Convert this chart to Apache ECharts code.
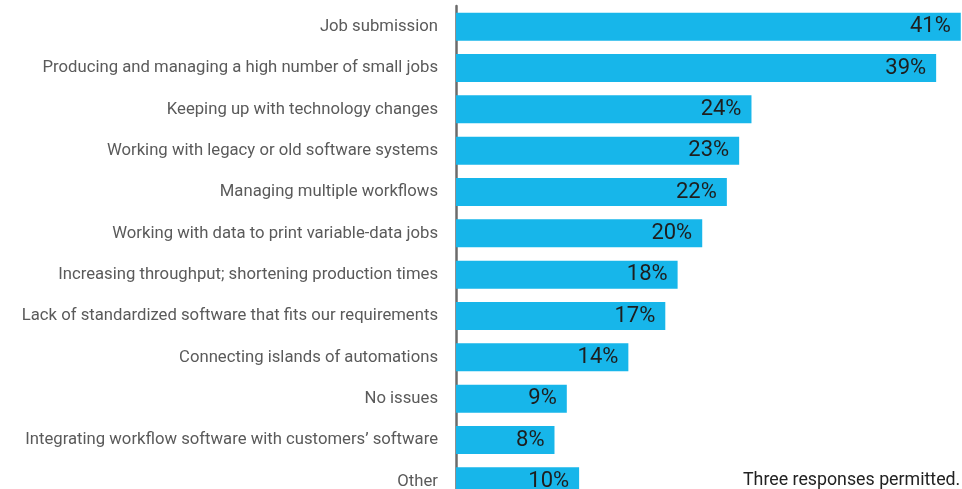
<!DOCTYPE html>
<html>
<head>
<meta charset="utf-8">
<script src="https://cdn.jsdelivr.net/npm/echarts@6/dist/echarts.min.js"></script>
<style>
  html, body { margin: 0; padding: 0; background: #fff; overflow: hidden; }
  /* canvas is taller than the window: the last row runs past the lower edge */
  #chart { width: 962px; height: 502px; }
</style>
</head>
<body>
<div id="chart"></div>
<script>
// Workflow challenges, share of respondents (percent)
const categories = [
  'Job submission',
  'Producing and managing a high number of small jobs',
  'Keeping up with technology changes',
  'Working with legacy or old software systems',
  'Managing multiple workflows',
  'Working with data to print variable-data jobs',
  'Increasing throughput; shortening production times',
  'Lack of standardized software that fits our requirements',
  'Connecting islands of automations',
  'No issues',
  'Integrating workflow software with customers\u2019 software',
  'Other'
];
const values = [41, 39, 24, 23, 22, 20, 18, 17, 14, 9, 8, 10];
const footnote = 'Three responses permitted.';

const labelFont = "'Roboto', sans-serif";

const chart = echarts.init(document.getElementById('chart'), null, { renderer: 'canvas' });
chart.setOption({
  animation: false,
  backgroundColor: '#ffffff',
  title: {
    text: footnote,
    left: 743,
    top: 470,
    padding: 0,
    textStyle: { color: '#222222', fontSize: 17.8, fontWeight: 'normal', fontFamily: labelFont, lineHeight: 22 }
  },
  grid: { left: 456, top: 6, right: 0, bottom: 0 },
  xAxis: {
    type: 'value',
    min: 0,
    max: 41.1,
    show: false
  },
  yAxis: {
    type: 'category',
    data: categories,
    inverse: true,
    axisLine: { show: true, lineStyle: { color: '#6b6b6b', width: 2.5 } },
    axisTick: { show: false },
    splitLine: { show: false },
    axisLabel: {
      margin: 18,
      color: '#5a5a5a',
      fontSize: 16.7,
      fontFamily: labelFont
    }
  },
  series: [{
    type: 'bar',
    data: values,
    barWidth: 28,
    itemStyle: { color: '#17b6ea' },
    label: {
      show: true,
      position: 'insideRight',
      distance: 10,
      formatter: '{c}%',
      color: '#1e1e1e',
      fontSize: 22,
      fontFamily: labelFont
    }
  }]
});
</script>
</body>
</html>
